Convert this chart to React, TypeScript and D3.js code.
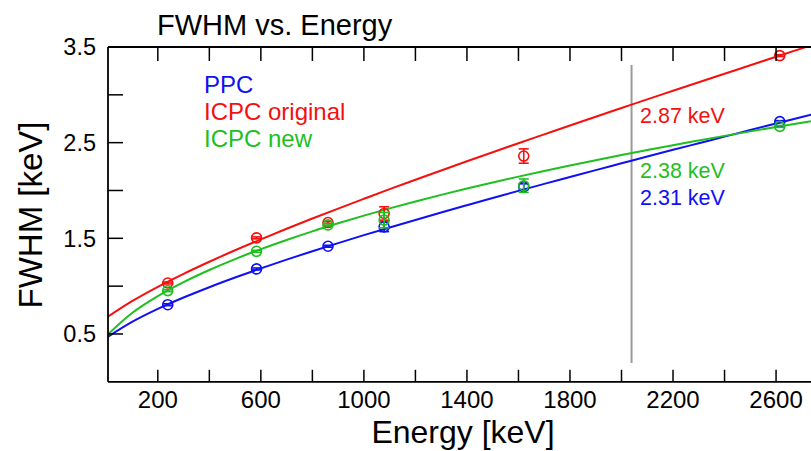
import React from "react";
import * as d3 from "d3";

// ---- data ----
const curveEnergies = [0, 100, 200, 300, 400, 500, 600, 700, 800, 900, 1000, 1100, 1200, 1300, 1400, 1500, 1600, 1700, 1800, 1900, 2000, 2100, 2200, 2300, 2400, 2500, 2600, 2700, 2800];
const ppcFit = [0.46, 0.626, 0.762, 0.881, 0.989, 1.09, 1.186, 1.277, 1.365, 1.45, 1.533, 1.613, 1.692, 1.77, 1.846, 1.921, 1.996, 2.069, 2.141, 2.213, 2.284, 2.355, 2.425, 2.494, 2.563, 2.632, 2.7, 2.768, 2.836];
const icpcOrigFit = [0.67, 0.843, 0.993, 1.129, 1.255, 1.375, 1.489, 1.6, 1.707, 1.811, 1.913, 2.014, 2.112, 2.209, 2.305, 2.4, 2.494, 2.587, 2.68, 2.771, 2.862, 2.953, 3.042, 3.132, 3.221, 3.309, 3.398, 3.486, 3.573];
const icpcNewFit = [0.48, 0.719, 0.896, 1.042, 1.169, 1.283, 1.387, 1.483, 1.573, 1.657, 1.737, 1.813, 1.885, 1.954, 2.02, 2.084, 2.145, 2.204, 2.261, 2.317, 2.371, 2.423, 2.474, 2.523, 2.571, 2.618, 2.664, 2.708, 2.752];

const peakEnergies = [238.6, 583.2, 860.6, 1078.6, 1620.5, 2614.5];
const ppcPoints = [0.806, 1.18, 1.417, 1.62, 2.04, 2.72];
const ppcErrors = [0.01, 0.01, 0.01, 0.05, 0.03, 0.01];
const icpcOrigPoints = [1.033, 1.505, 1.665, 1.76, 2.36, 3.41];
const icpcOrigErrors = [0.01, 0.01, 0.01, 0.07, 0.075, 0.01];
const icpcNewPoints = [0.953, 1.364, 1.64, 1.69, 2.05, 2.67];
const icpcNewErrors = [0.01, 0.01, 0.01, 0.08, 0.07, 0.01];

const xTickValues = [200, 400, 600, 800, 1000, 1200, 1400, 1600, 1800, 2000, 2200, 2400, 2600, 2800];
const xTickLabels = [200, 600, 1000, 1400, 1800, 2200, 2600];
const yTickValues = [0.5, 1.0, 1.5, 2.0, 2.5, 3.0];
const yTickLabels = [0.5, 1.5, 2.5, 3.5];

const qbbEnergy = 2039;
const annotations = [
  { text: "2.87 keV", color: "red" },
  { text: "2.38 keV", color: "green" },
  { text: "2.31 keV", color: "blue" },
];
const legendNames = ["PPC", "ICPC original", "ICPC new"];

const COLORS: Record<string, string> = { blue: "#1010f5", red: "#f51010", green: "#1fbf1f" };
const FONT = "'Liberation Sans', Arial, Helvetica, sans-serif";

export default function App() {
  const W = 811, H = 451;
  const left = 108, bottom = 381.8, top = 47;
  const x = d3.scaleLinear().domain([0, 2800]).range([106.3, 106.3 + 2800 * 0.2576]);
  const y = d3.scaleLinear().domain([0, 3.5]).range([bottom, top]);

  const line = d3
    .line<number>()
    .x((_, i) => x(curveEnergies[i]))
    .y((v) => y(v))
    .curve(d3.curveMonotoneX);

  const series = [
    { fit: ppcFit, pts: ppcPoints, err: ppcErrors, color: COLORS.blue },
    { fit: icpcOrigFit, pts: icpcOrigPoints, err: icpcOrigErrors, color: COLORS.red },
    { fit: icpcNewFit, pts: icpcNewPoints, err: icpcNewErrors, color: COLORS.green },
  ];
  const legendColors = [COLORS.blue, COLORS.red, COLORS.green];
  const annYs = [122.7, 178.3, 205];

  const r = 5;
  const capW = 5;

  return (
    <div style={{ position: "absolute", left: 0, top: 0 }}>
      <svg width={W} height={H} style={{ display: "block", background: "#fff" }} fontFamily={FONT}>
        <defs>
          <clipPath id="plotClip">
            <rect x={left} y={top} width={W - left + 50} height={bottom - top} />
          </clipPath>
        </defs>

        {/* title */}
        <text x={157} y={35} fontSize={29} fill="#000">FWHM vs. Energy</text>

        {/* vertical Qbb line */}
        <line x1={x(qbbEnergy)} x2={x(qbbEnergy)} y1={65} y2={363} stroke="#9a9a9a" strokeWidth={2} />

        {/* fit curves */}
        <g clipPath="url(#plotClip)">
          {series.map((s, i) => (
            <path key={i} d={line(s.fit) || ""} fill="none" stroke={s.color} strokeWidth={2} />
          ))}
        </g>

        {/* data points with error bars */}
        {series.map((s, si) => (
          <g key={si} stroke={s.color} fill="none" strokeWidth={1.6}>
            {s.pts.map((v, i) => {
              const cx = x(peakEnergies[i]);
              const yHi = y(v + s.err[i]);
              const yLo = y(v - s.err[i]);
              return (
                <g key={i}>
                  <circle cx={cx} cy={y(v)} r={r} />
                  <line x1={cx} x2={cx} y1={yHi} y2={yLo} />
                  <line x1={cx - capW} x2={cx + capW} y1={yHi} y2={yHi} />
                  <line x1={cx - capW} x2={cx + capW} y1={yLo} y2={yLo} />
                </g>
              );
            })}
          </g>
        ))}

        {/* frame */}
        <g stroke="#000" strokeWidth={1.8} fill="none">
          <line x1={left} x2={left} y1={top} y2={bottom} />
          <line x1={left} x2={W + 10} y1={bottom} y2={bottom} />
          <line x1={left} x2={W + 10} y1={top} y2={top} />
        </g>

        {/* ticks */}
        <g stroke="#000" strokeWidth={1.5}>
          {xTickValues.map((t) => (
            <g key={t}>
              <line x1={x(t)} x2={x(t)} y1={bottom} y2={bottom - 12} />
              <line x1={x(t)} x2={x(t)} y1={top} y2={top + 14} />
            </g>
          ))}
          {yTickValues.map((t) => (
            <line key={t} x1={left} x2={left + 15} y1={y(t)} y2={y(t)} />
          ))}
        </g>
        {xTickLabels.map((t) => (
          <text key={t} x={x(t)} y={408} fontSize={24} textAnchor="middle" fill="#000">
            {t}
          </text>
        ))}
        {yTickLabels.map((t) => (
          <text key={t} x={96} y={y(t)} dy="0.35em" fontSize={23.5} textAnchor="end" fill="#000">
            {t.toFixed(1)}
          </text>
        ))}

        {/* axis titles */}
        <text x={463} y={443} fontSize={32} textAnchor="middle" fill="#000">Energy [keV]</text>
        <text
          transform={`translate(42, 215) rotate(-90)`}
          fontSize={33}
          textAnchor="middle"
          fill="#000"
        >
          FWHM [keV]
        </text>

        {/* legend */}
        {legendNames.map((n, i) => (
          <text key={n} x={204} y={93.3 + i * 26.7} fontSize={24} fill={legendColors[i]}>
            {n}
          </text>
        ))}

        {/* annotations */}
        {annotations.map((a, i) => (
          <text key={a.text} x={640} y={annYs[i]} fontSize={21.5} fill={COLORS[a.color]}>
            {a.text}
          </text>
        ))}
      </svg>
    </div>
  );
}
